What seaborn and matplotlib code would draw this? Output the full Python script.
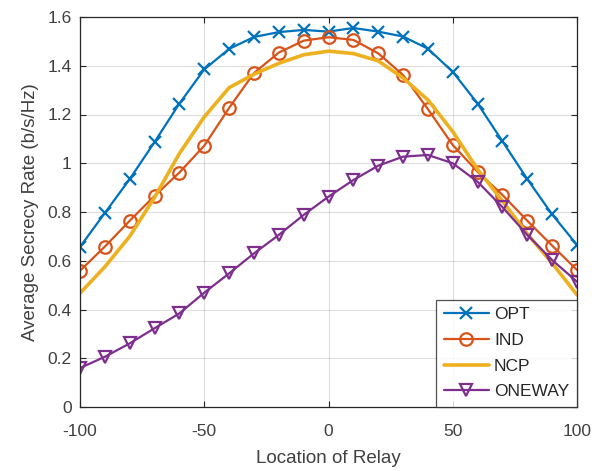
import matplotlib
matplotlib.use("Agg")
import matplotlib.pyplot as plt
import seaborn as sns
import pandas as pd

location = [-100, -90, -80, -70, -60, -50, -40, -30, -20, -10, 0,
            10, 20, 30, 40, 50, 60, 70, 80, 90, 100]
opt = [0.657, 0.796, 0.935, 1.087, 1.245, 1.385, 1.469, 1.518, 1.538, 1.547, 1.540,
       1.555, 1.540, 1.520, 1.470, 1.375, 1.245, 1.090, 0.935, 0.790, 0.665]
ind = [0.559, 0.658, 0.764, 0.866, 0.962, 1.072, 1.227, 1.370, 1.454, 1.503, 1.517,
       1.506, 1.451, 1.362, 1.222, 1.075, 0.965, 0.870, 0.764, 0.662, 0.562]
ncp = [0.467, 0.575, 0.700, 0.860, 1.040, 1.190, 1.310, 1.365, 1.410, 1.445, 1.460,
       1.450, 1.420, 1.350, 1.260, 1.130, 0.975, 0.845, 0.710, 0.590, 0.460]
oneway = [0.160, 0.206, 0.261, 0.323, 0.384, 0.469, 0.548, 0.630, 0.706, 0.788, 0.863,
          0.931, 0.990, 1.027, 1.034, 1.000, 0.924, 0.820, 0.706, 0.603, 0.514]

x_ticks = [-100, -50, 0, 50, 100]
y_ticks = [0, 0.2, 0.4, 0.6, 0.8, 1.0, 1.2, 1.4, 1.6]
y_tick_labels = ["0", "0.2", "0.4", "0.6", "0.8", "1", "1.2", "1.4", "1.6"]

sns.set_style("white")
plt.rcParams["font.family"] = ["Liberation Sans", "DejaVu Sans"]
plt.rcParams["axes.unicode_minus"] = False

fig = plt.figure(figsize=(6.03, 4.71), dpi=100)
ax = fig.add_axes([80 / 603, 64 / 471, 497 / 603, 390 / 471])

series = [
    ("OPT", opt, "#0072BD", "x", 1.6, 9),
    ("IND", ind, "#D95319", "o", 1.6, 9),
    ("NCP", ncp, "#EDB120", None, 2.6, 0),
    ("ONEWAY", oneway, "#7E2F8E", "v", 1.6, 9),
]
for name, vals, color, marker, lw, ms in series:
    df = pd.DataFrame({"x": location, "y": vals})
    kw = dict(marker=marker, markersize=ms, markerfacecolor="none",
              markeredgecolor=color, markeredgewidth=1.6) if marker else {}
    sns.lineplot(data=df, x="x", y="y", ax=ax, color=color, linewidth=lw,
                 label=name, **kw)

ax.set_xlim(-100, 100)
ax.set_ylim(0, 1.6)
ax.set_xticks(x_ticks)
ax.set_xticklabels([str(t) for t in x_ticks])
ax.set_yticks(y_ticks)
ax.set_yticklabels(y_tick_labels)
ax.grid(True, color="#262626", alpha=0.15, linewidth=0.8)
ax.tick_params(direction="in", length=4, width=0.8, colors="#262626",
               labelsize=12.5, top=True, right=True, bottom=True, left=True,
               labelcolor="#404040")
ax.tick_params(axis="x", pad=12)
ax.tick_params(axis="y", pad=6)
for sp in ax.spines.values():
    sp.set_color("#262626")
    sp.set_linewidth(0.9)
ax.set_xlabel("Location of Relay", fontsize=13.5, color="#404040", labelpad=8)
ax.set_ylabel("Average Secrecy Rate (b/s/Hz)", fontsize=13.5, color="#404040", labelpad=6)

leg = ax.legend(loc="lower right", fontsize=12.5, frameon=True, fancybox=False,
                borderaxespad=0, handlelength=2.6, handletextpad=0.3,
                labelspacing=0.6, borderpad=0.45)
leg.get_frame().set_edgecolor("#262626")
leg.get_frame().set_linewidth(0.9)
for t in leg.get_texts():
    t.set_color("#262626")

fig.savefig("out.png", dpi=100)
